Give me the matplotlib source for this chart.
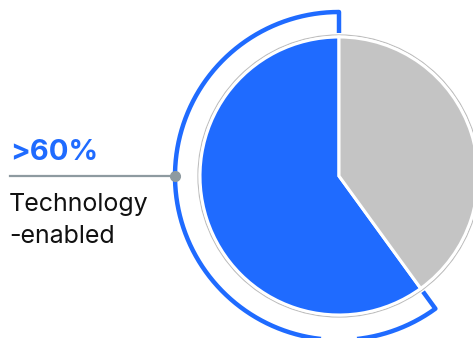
import numpy as np
import matplotlib
matplotlib.use("Agg")
import matplotlib.pyplot as plt
from matplotlib.patches import Circle

# Share of companies by type
categories = ["Technology-enabled", "Other"]
shares = [60, 40]
headline = ">60%"
label_lines = ["Technology", "-enabled"]

BLUE = "#1f6bff"
GREY = "#c4c4c4"
LINE_GREY = "#8e9aa0"

W, H = 473, 338
fig = plt.figure(figsize=(W / 100, H / 100), dpi=100)
ax = fig.add_axes([0, 0, 1, 1])

cx, cy = 339, 162
r = 139

# thin outline circle around the pie
ax.add_patch(Circle((cx, cy), r + 2.0, fill=False, ec="#bdbdbd", lw=0.9, zorder=1))

ax.pie(shares, colors=[BLUE, GREY], startangle=90, counterclock=True,
       center=(cx, cy), radius=r,
       wedgeprops=dict(edgecolor="white", linewidth=2.2), frame=True)
ax.set_xlim(0, W)
ax.set_ylim(0, H)
ax.set_aspect("equal")
ax.axis("off")

# bracket arc around the highlighted share
t0 = 90
t1 = 90 + 360 * shares[0] / sum(shares)
R_out, R_in = 164, 143
th = np.radians(np.linspace(t0, t1, 300))
xs = np.concatenate([[cx + R_in * np.cos(th[0])], cx + R_out * np.cos(th),
                     [cx + R_in * np.cos(th[-1])]])
ys = np.concatenate([[cy + R_in * np.sin(th[0])], cy + R_out * np.sin(th),
                     [cy + R_in * np.sin(th[-1])]])
ax.plot(xs, ys, color=BLUE, lw=3.2, solid_joinstyle="round", solid_capstyle="butt", zorder=3)

# leader line to the bracket
lx = cx - R_out
ax.plot([10, lx], [cy, cy], color=LINE_GREY, lw=1.6, zorder=4)
ax.plot([lx], [cy], "o", color=LINE_GREY, ms=7, zorder=5)

ax.text(10, 178, headline, color=BLUE, fontsize=21, fontweight="bold",
        family="Inter", ha="left", va="baseline")
for line, base in zip(label_lines, [127, 95]):
    ax.text(9, base, line, color="#111111", fontsize=18, family="Inter",
            ha="left", va="baseline")

fig.savefig("out.png", dpi=100)
